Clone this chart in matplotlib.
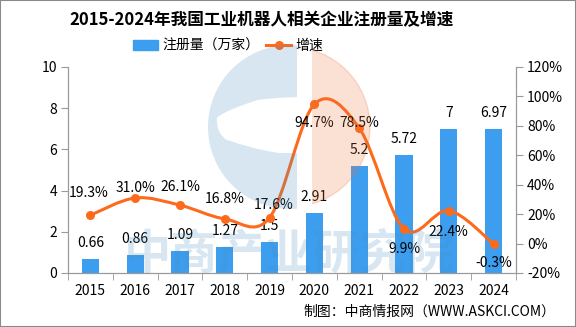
import numpy as np
import matplotlib
matplotlib.use("Agg")
import matplotlib.pyplot as plt
from matplotlib.path import Path
from matplotlib.patches import PathPatch, Ellipse, Rectangle
from matplotlib.lines import Line2D

plt.rcParams['font.family'] = ['Noto Sans CJK SC', 'DejaVu Sans']

years = ['2015', '2016', '2017', '2018', '2019', '2020', '2021', '2022', '2023', '2024']
counts = [0.66, 0.86, 1.09, 1.27, 1.5, 2.91, 5.2, 5.72, 7, 6.97]
growth = [19.3, 31.0, 26.1, 16.8, 17.6, 94.7, 78.5, 9.9, 22.4, -0.3]
count_labels = ['0.66', '0.86', '1.09', '1.27', '1.5', '2.91', '5.2', '5.72', '7', '6.97']
growth_labels = ['19.3%', '31.0%', '26.1%', '16.8%', '17.6%', '94.7%', '78.5%', '9.9%', '22.4%', '-0.3%']
# label offsets (pixels) for the growth labels, as placed in the reference
growth_offsets = [(-2, 22), (0, 10), (0, 18), (0, 20), (4, 13), (0, -19), (0, 5), (0, -20), (0, -21), (0, -19)]

BLUE = '#3d9ef0'
ORANGE = '#fd6a1c'
AXC = '#9a9a9a'

W, H = 576, 327
fig = plt.figure(figsize=(W / 100, H / 100), dpi=100)
ax = fig.add_axes([68 / W, 1 - 273 / H, 448 / W, 206 / H])
ax.patch.set_alpha(0)
ax2 = ax.twinx()

x = np.arange(len(years))
bars = ax.bar(x, counts, width=0.38, color=BLUE, zorder=2)
ax.set_xlim(-0.5, 9.5)
ax.set_ylim(0, 10)
ax.set_yticks(range(0, 11, 2))
ax.set_xticks(x)
ax.set_xticklabels(years)
ax.set_xticks(np.arange(-0.5, 10, 1), minor=True)
ax.tick_params(axis='x', which='major', length=0, pad=8, labelsize=10)
ax.tick_params(axis='x', which='minor', length=5, color=AXC)
ax.tick_params(axis='y', length=5, color=AXC, labelsize=10, pad=3)

for i, v in enumerate(counts):
    ax.annotate(count_labels[i], (x[i], v), xytext=(0, 16), textcoords='offset pixels',
                ha='center', va='center', fontsize=10)

ax2.set_ylim(-20, 120)
ax2.set_yticks(range(-20, 121, 20))
ax2.set_yticklabels([f'{t}%' for t in range(-20, 121, 20)])
ax2.tick_params(axis='y', length=5, color=AXC, labelsize=10, pad=3)

for a in (ax, ax2):
    a.spines['top'].set_visible(False)
    for s in ('left', 'right', 'bottom'):
        a.spines[s].set_color(AXC)

# smooth growth curve (cubic bezier segments through the points)
pts = np.column_stack([x, growth]).astype(float)
verts = [tuple(pts[0])]
codes = [Path.MOVETO]
n = len(pts)
for i in range(n - 1):
    p0 = pts[i - 1] if i > 0 else pts[i]
    p1 = pts[i]
    p2 = pts[i + 1]
    p3 = pts[i + 2] if i + 2 < n else pts[i + 1]
    c1 = p1 + (p2 - p0) / 6
    c2 = p2 - (p3 - p1) / 6
    verts += [tuple(c1), tuple(c2), tuple(p2)]
    codes += [Path.CURVE4] * 3
ax2.add_patch(PathPatch(Path(verts, codes), fill=False, edgecolor=ORANGE, lw=2.2, zorder=3))
ax2.plot(x, growth, 'o', color=ORANGE, ms=5.5, zorder=4)

for i, v in enumerate(growth):
    dx, dy = growth_offsets[i]
    ax2.annotate(growth_labels[i], (x[i], v), xytext=(dx, dy), textcoords='offset pixels',
                 ha='center', va='center', fontsize=10, zorder=5)


# watermark (logo + text), drawn on top with low alpha
def ellipse_path(cxp, cyp, rx, ry, reverse=False):
    uc = Path.unit_circle()
    v = uc.vertices.copy()
    v[:, 0] = (cxp + rx * v[:, 0]) / W
    v[:, 1] = 1 - (cyp + ry * v[:, 1]) / H
    c = uc.codes
    if reverse:
        v = v[::-1]
        c = np.concatenate([[Path.MOVETO], c[1:][::-1]])
        c[-1] = Path.CLOSEPOLY
        c[1:-1] = np.where(c[1:-1] == Path.MOVETO, Path.CURVE4, c[1:-1])
    return Path(v, c)


wm_blue = '#4a8fc0'
wm_orange = '#ed723c'
outer = ellipse_path(290, 127, 82, 82)
inner = ellipse_path(302, 125, 85, 28)
inner = Path(inner.vertices[::-1], inner.codes)
blue_c = PathPatch(Path.make_compound_path(outer, inner), transform=fig.transFigure,
                   facecolor=wm_blue, edgecolor='none', alpha=0.22, zorder=10)
blue_c.set_clip_path(Rectangle((0, 0), 297 / W, 1, transform=fig.transFigure))
fig.patches.append(blue_c)
orange_c = Ellipse((290 / W, 1 - 127 / H), 160 / W, 160 / H, transform=fig.transFigure,
                   color=wm_orange, alpha=0.22, zorder=10)
orange_c.set_clip_path(Rectangle((312 / W, 0), 1, 1, transform=fig.transFigure))
fig.patches.append(orange_c)
fig.text(289 / W, 1 - 254 / H, '中商产业研究院', ha='center', va='center', fontsize=34,
         fontweight='bold', color=wm_blue, alpha=0.22, zorder=10)

fig.text(262 / W, 1 - 20 / H, '2015-2024年我国工业机器人相关企业注册量及增速', ha='center', va='center',
         fontsize=12, fontweight='bold')
handles = [Rectangle((0, 0), 1, 1, color=BLUE),
           Line2D([0], [0], color=ORANGE, lw=2.2, marker='o', ms=5.5)]
fig.legend(handles, ['注册量（万家）', '增速'], loc='center', bbox_to_anchor=(228 / W, 1 - 46 / H),
           ncol=2, frameon=False, fontsize=10, handlelength=1.8, handleheight=0.8,
           handletextpad=0.3, columnspacing=0.5)
fig.text(303 / W, 1 - 312 / H, '制图：中商情报网（WWW.ASKCI.COM）', ha='left', va='center', fontsize=10)

fig.patches.append(Rectangle((0, 0), 1, 1, transform=fig.transFigure, fill=False,
                             edgecolor='#8a8a8a', lw=1.5, zorder=20))

fig.savefig('out.png', dpi=100)
